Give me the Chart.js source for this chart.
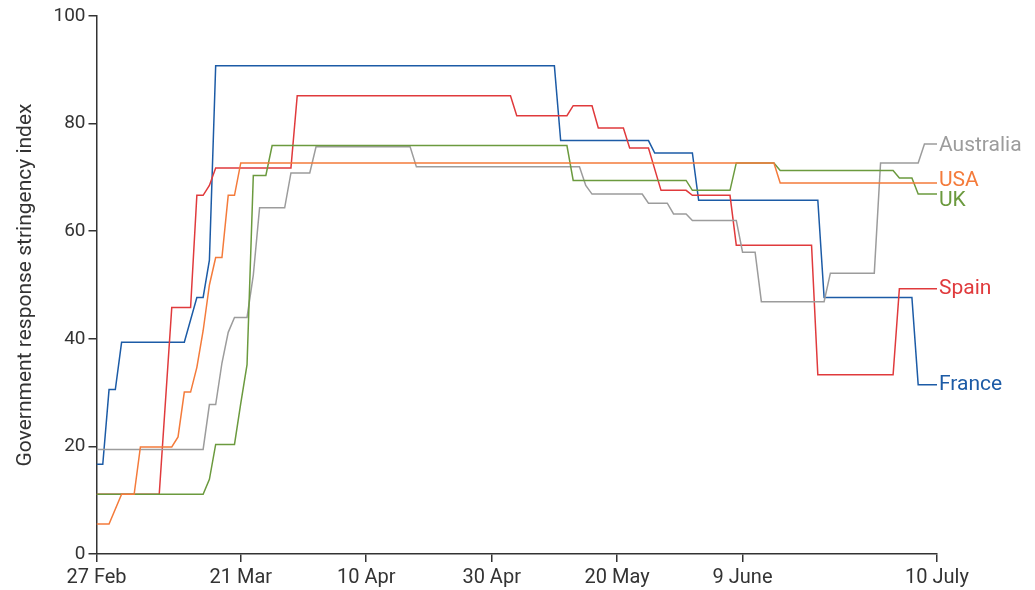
<!DOCTYPE html>
<html>
<head>
<meta charset="utf-8">
<title>Government response stringency index</title>
<script src="https://cdn.jsdelivr.net/npm/chart.js@4.4.1/dist/chart.umd.min.js"></script>
<style>
  body { margin: 0; background: #fff; }
  #contenedor { width: 1035px; height: 590px; position: relative; }
</style>
</head>
<body>
<div id="contenedor"><canvas id="graficoStringency"></canvas></div>
<script>
    // Eje X: dias desde el 27 de febrero
    const tickDays = [0, 23, 43, 63, 83, 103, 134];
    const tickLabels = ['27 Feb', '21 Mar', '10 Apr', '30 Apr', '20 May', '9 June', '10 July'];

    const countries = ['USA', 'UK', 'Australia', 'Spain', 'France'];

    // Puntos de cambio de cada serie (dia, indice)
    const usaDays = [0, 2, 4, 6, 7, 12, 13, 14, 15, 16, 17, 18, 19, 20, 21, 22, 23, 108, 109, 134];
    const usaIndex = [5.56, 5.56, 11.11, 11.11, 19.91, 19.91, 21.76, 30.09, 30.09, 34.7, 41.5, 50.0, 55.09, 55.09, 66.67, 66.67, 72.69, 72.69, 68.98, 68.98];

    const ukDays = [0, 17, 18, 19, 22, 23, 24, 25, 27, 28, 75, 76, 94, 95, 101, 102, 108, 109, 127, 128, 130, 131, 134];
    const ukIndex = [11.11, 11.11, 13.89, 20.37, 20.37, 28.0, 35.2, 70.37, 70.37, 75.93, 75.93, 69.44, 69.44, 67.59, 67.59, 72.69, 72.69, 71.3, 71.3, 69.91, 69.91, 66.9, 66.9];

    const australiaDays = [0, 17, 18, 19, 20, 21, 22, 24, 25, 26, 30, 31, 34, 35, 50, 51, 77, 78, 79, 87, 88, 91, 92, 94, 95, 102, 103, 105, 106, 116, 117, 124, 125, 131, 132, 134];
    const australiaIndex = [19.44, 19.44, 27.78, 27.78, 35.5, 41.2, 43.98, 43.98, 51.85, 64.35, 64.35, 70.83, 70.83, 75.7, 75.7, 71.96, 71.96, 68.5, 66.9, 66.9, 65.2, 65.2, 63.2, 63.2, 62.0, 62.0, 56.1, 56.1, 46.9, 46.9, 52.2, 52.2, 72.69, 72.69, 76.2, 76.2];

    const spainDays = [0, 10, 12, 15, 16, 17, 18, 19, 31, 32, 66, 67, 75, 76, 79, 80, 84, 85, 88, 90, 94, 95, 101, 102, 114, 115, 127, 128, 134];
    const spainIndex = [11.11, 11.11, 45.83, 45.83, 66.67, 66.67, 68.5, 71.76, 71.76, 85.19, 85.19, 81.48, 81.48, 83.33, 83.33, 79.17, 79.17, 75.46, 75.46, 67.59, 67.59, 66.67, 66.67, 57.41, 57.41, 33.33, 33.33, 49.3, 49.3];

    const franceDays = [0, 1, 2, 3, 4, 14, 16, 17, 18, 19, 73, 74, 88, 89, 95, 96, 115, 116, 130, 131, 134];
    const franceIndex = [16.67, 16.67, 30.56, 30.56, 39.35, 39.35, 47.69, 47.69, 54.63, 90.74, 90.74, 76.85, 76.85, 74.54, 74.54, 65.74, 65.74, 47.69, 47.69, 31.48, 31.48];

    const seriesDays = [usaDays, ukDays, australiaDays, spainDays, franceDays];
    const seriesIndex = [usaIndex, ukIndex, australiaIndex, spainIndex, franceIndex];

    // Colores y desplazamiento vertical de las etiquetas al final de cada linea
    const colors = ['#f47b3b', '#6b9a3e', '#9c9c9c', '#e03a3c', '#1c5ba6'];
    const labelNudge = [-2, 7, 2, 0, 0];

    let chartStringency;

    // Plugin para escribir el nombre del pais al final de cada linea
    const endLabels = {
      id: 'endLabels',
      afterDatasetsDraw(chart) {
        const ctx = chart.ctx;
        ctx.save();
        ctx.font = '21px Roboto';
        ctx.textAlign = 'left';
        ctx.textBaseline = 'middle';
        chart.data.datasets.forEach((ds, i) => {
          const meta = chart.getDatasetMeta(i);
          const last = meta.data[meta.data.length - 1];
          ctx.fillStyle = ds.borderColor;
          ctx.fillText(ds.label, last.x + 2, last.y + labelNudge[i]);
        });
        ctx.restore();
      }
    };

    function crearGrafico() {
      const ctx = document.getElementById('graficoStringency').getContext('2d');

      const datasets = countries.map((name, i) => ({
        label: name,
        data: seriesDays[i].map((d, j) => ({ x: d, y: seriesIndex[i][j] })),
        borderColor: colors[i],
        borderWidth: 1.5,
        pointRadius: 0,
        tension: 0,
        fill: false
      }));

      const axisGrid = {
        display: true,
        drawOnChartArea: false,
        drawTicks: true,
        tickLength: 8,
        color: '#333',
        lineWidth: 1.5
      };
      const axisBorder = { display: true, color: '#333', width: 1.5 };

      Chart.defaults.font.family = 'Roboto';

      chartStringency = new Chart(ctx, {
        type: 'line',
        data: { datasets: datasets },
        options: {
          responsive: true,
          maintainAspectRatio: false,
          animation: false,
          layout: { padding: { left: 0, top: 16, right: 98, bottom: 0 } },
          plugins: {
            legend: { display: false },
            tooltip: { enabled: false }
          },
          scales: {
            x: {
              type: 'linear',
              min: 0,
              max: 134,
              afterBuildTicks: scale => { scale.ticks = tickDays.map(v => ({ value: v })); },
              afterFit: scale => { scale.height = 36; },
              grid: axisGrid,
              border: axisBorder,
              ticks: {
                autoSkip: false,
                maxRotation: 0,
                padding: 4,
                color: '#333',
                font: { size: 20 },
                callback: (value, index) => tickLabels[index]
              }
            },
            y: {
              min: 0,
              max: 100,
              afterFit: scale => { scale.width = 96.5; },
              grid: axisGrid,
              border: axisBorder,
              ticks: { stepSize: 20, padding: 3, color: '#333', font: { size: 19 } },
              title: {
                display: true,
                text: 'Government response stringency index',
                color: '#333',
                font: { size: 21 },
                padding: { top: 13, bottom: 0 }
              }
            }
          }
        },
        plugins: [endLabels]
      });
    }

    window.onload = function() {
      crearGrafico();
    };
</script>
</body>
</html>
